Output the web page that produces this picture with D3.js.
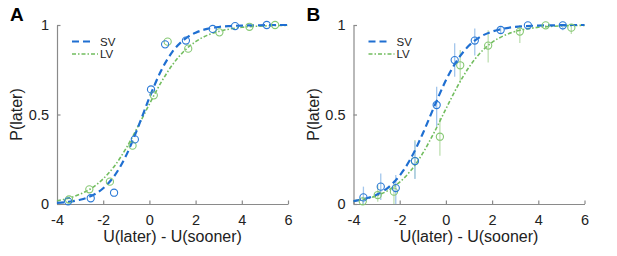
<!DOCTYPE html>
<html lang="en">
<head>
  <meta charset="UTF-8">
  <title>P(later)</title>
  <script src="https://d3js.org/d3.v7.min.js"></script>
  <style>
    body { margin: 0; background: #fff; }
    text { font-family: "Liberation Sans", Arial, sans-serif; }
  </style>
</head>
<body>
  <svg width="617" height="256"></svg>
<script>
  const svg = d3.select("svg");

  // curve samples (x from -4 to 6, step 0.5)
  const curveX = [-4, -3.5, -3, -2.5, -2, -1.5, -1, -0.5, 0, 0.5, 1, 1.5, 2, 2.5, 3, 3.5, 4, 4.5, 5, 5.5, 6];
  const fitA_SV = [0.006, 0.012, 0.024, 0.046, 0.088, 0.16, 0.273, 0.426, 0.594, 0.743, 0.851, 0.918, 0.957, 0.978, 0.989, 0.994, 0.997, 0.998, 0.999, 1, 1];
  const fitA_LV = [0.018, 0.032, 0.055, 0.089, 0.141, 0.214, 0.313, 0.432, 0.558, 0.678, 0.778, 0.854, 0.907, 0.942, 0.964, 0.978, 0.987, 0.992, 0.995, 0.997, 0.998];
  const fitB_SV = [0.016, 0.029, 0.052, 0.092, 0.159, 0.259, 0.394, 0.546, 0.691, 0.805, 0.885, 0.935, 0.963, 0.98, 0.989, 0.994, 0.997, 0.998, 0.999, 1, 1];
  const fitB_LV = [0.017, 0.028, 0.046, 0.076, 0.122, 0.19, 0.284, 0.402, 0.531, 0.657, 0.764, 0.846, 0.903, 0.94, 0.964, 0.978, 0.987, 0.992, 0.995, 0.997, 0.998];

  // observed points, panel A
  const obsA_SV_x = [-3.52, -2.54, -1.53, -0.63, 0.07, 0.68, 1.58, 2.74, 3.71, 5.08];
  const obsA_SV_y = [0.015, 0.032, 0.063, 0.361, 0.64, 0.892, 0.913, 0.978, 0.994, 1.0];
  const obsA_LV_x = [-3.48, -2.6, -1.71, -0.73, 0.19, 0.79, 1.68, 3.03, 4.33, 5.44];
  const obsA_LV_y = [0.025, 0.082, 0.125, 0.326, 0.607, 0.907, 0.868, 0.959, 0.99, 1.0];

  // observed points, panel B (with error bars)
  const obsB_SV_x = [-3.57, -2.82, -2.17, -1.34, -0.4, 0.38, 1.25, 2.37, 3.55, 5.06];
  const obsB_SV_y = [0.037, 0.097, 0.089, 0.24, 0.553, 0.804, 0.913, 0.972, 0.998, 0.998];
  const obsB_SV_lo = [0.0, 0.022, 0.0, 0.14, 0.432, 0.711, 0.83, 0.95, 0.99, 0.97];
  const obsB_SV_hi = [0.097, 0.171, 0.162, 0.35, 0.655, 0.898, 0.98, 0.99, 1.0, 1.0];
  const obsB_LV_x = [-3.6, -2.95, -2.25, -1.34, -0.26, 0.62, 1.83, 3.2, 4.32, 5.43];
  const obsB_LV_y = [0.015, 0.05, 0.069, 0.24, 0.376, 0.775, 0.885, 0.963, 0.998, 0.985];
  const obsB_LV_lo = [0.0, 0.013, 0.0, 0.143, 0.27, 0.68, 0.79, 0.9, 0.98, 0.95];
  const obsB_LV_hi = [0.04, 0.106, 0.13, 0.357, 0.48, 0.86, 0.97, 1.0, 1.0, 1.0];

  const xTicks = [-4, -2, 0, 2, 4, 6];
  const yTicks = [0, 0.5, 1];
  const yTickLabels = ["0", "0.5", "1"];

  const blue = "#1f6fd1", green = "#72bd5f";
  const blueLight = "#a3c6ec", greenLight = "#bfe0b2";
  const axisGray = "#8a8a8a";

  const panels = [
    { letter: "A", left: 57, sv: fitA_SV, lv: fitA_LV,
      svx: obsA_SV_x, svy: obsA_SV_y, lvx: obsA_LV_x, lvy: obsA_LV_y },
    { letter: "B", left: 353.5, sv: fitB_SV, lv: fitB_LV,
      svx: obsB_SV_x, svy: obsB_SV_y, lvx: obsB_LV_x, lvy: obsB_LV_y,
      svlo: obsB_SV_lo, svhi: obsB_SV_hi, lvlo: obsB_LV_lo, lvhi: obsB_LV_hi }
  ];

  const plotTop = 25, plotBottom = 204, plotW = 231;

  panels.forEach(p => {
    const x = d3.scaleLinear().domain([-4, 6]).range([p.left, p.left + plotW]);
    const y = d3.scaleLinear().domain([0, 1]).range([plotBottom, plotTop]);
    const g = svg.append("g");

    // axes (ticks inward, matlab style)
    const xAxis = g.append("g").attr("transform", `translate(0,${plotBottom})`)
      .call(d3.axisBottom(x).tickValues(xTicks).tickSizeInner(-3.5).tickSizeOuter(0).tickPadding(7).tickFormat(d => String(d)));
    const yAxis = g.append("g").attr("transform", `translate(${p.left},0)`)
      .call(d3.axisLeft(y).tickValues(yTicks).tickSizeInner(-3.5).tickSizeOuter(0).tickPadding(8).tickFormat((d, i) => yTickLabels[i]));
    [xAxis, yAxis].forEach(a => {
      a.selectAll("path, line").attr("stroke", axisGray).attr("stroke-width", 1.2);
      a.selectAll("text").attr("fill", "#222").style("font-size", "14.5px")
        .style("font-family", "'Liberation Sans', Arial, sans-serif");
    });
    xAxis.selectAll("text").attr("dy", "0.95em");

    // axis titles
    g.append("text").attr("x", x(1)).attr("y", 242).attr("text-anchor", "middle")
      .style("font-size", "16px").attr("fill", "#222").text("U(later) - U(sooner)");
    g.append("text").attr("transform", `translate(${p.left - 35},${y(0.5)}) rotate(-90)`)
      .attr("text-anchor", "middle").style("font-size", "16px").attr("fill", "#222").text("P(later)");

    // panel letter
    g.append("text").attr("x", p.left - 47).attr("y", 21).style("font-size", "19px")
      .style("font-weight", "bold").attr("fill", "#000").text(p.letter);

    // error bars
    if (p.svlo) {
      g.selectAll(".eb-lv").data(p.lvx).enter().append("line")
        .attr("x1", d => x(d)).attr("x2", d => x(d))
        .attr("y1", (d, i) => y(p.lvlo[i])).attr("y2", (d, i) => y(p.lvhi[i]))
        .attr("stroke", greenLight).attr("stroke-width", 1.3);
      g.selectAll(".eb-sv").data(p.svx).enter().append("line")
        .attr("x1", d => x(d)).attr("x2", d => x(d))
        .attr("y1", (d, i) => y(p.svlo[i])).attr("y2", (d, i) => y(p.svhi[i]))
        .attr("stroke", blueLight).attr("stroke-width", 1.3);
    }

    const line = d3.line().x((d, i) => x(curveX[i])).y(d => y(d)).curve(d3.curveMonotoneX);

    g.append("path").datum(p.lv).attr("d", line).attr("fill", "none")
      .attr("stroke", green).attr("stroke-width", 1.6).attr("stroke-dasharray", "4,2,1.5,2");
    g.append("path").datum(p.sv).attr("d", line).attr("fill", "none")
      .attr("stroke", blue).attr("stroke-width", 2.2).attr("stroke-dasharray", "7,4");

    // observed points
    g.selectAll(".pt-lv").data(p.lvx).enter().append("circle")
      .attr("cx", d => x(d)).attr("cy", (d, i) => y(p.lvy[i])).attr("r", 3.6)
      .attr("fill", "none").attr("stroke", "#86c873").attr("stroke-width", 1.1);
    g.selectAll(".pt-sv").data(p.svx).enter().append("circle")
      .attr("cx", d => x(d)).attr("cy", (d, i) => y(p.svy[i])).attr("r", 3.6)
      .attr("fill", "none").attr("stroke", "#2c7ad6").attr("stroke-width", 1.1);

    // legend
    const lg = g.append("g").attr("transform", `translate(${p.left + 15},0)`);
    lg.append("line").attr("x1", 0).attr("x2", 22).attr("y1", 41.5).attr("y2", 41.5)
      .attr("stroke", blue).attr("stroke-width", 2.2).attr("stroke-dasharray", "7,4");
    lg.append("line").attr("x1", 0).attr("x2", 26).attr("y1", 54).attr("y2", 54)
      .attr("stroke", green).attr("stroke-width", 1.6).attr("stroke-dasharray", "4,2,1.5,2");
    lg.append("text").attr("x", 28).attr("y", 45.7).style("font-size", "11.5px").attr("fill", "#222").text("SV");
    lg.append("text").attr("x", 28).attr("y", 58.3).style("font-size", "11.5px").attr("fill", "#222").text("LV");
  });
</script>
</body>
</html>
